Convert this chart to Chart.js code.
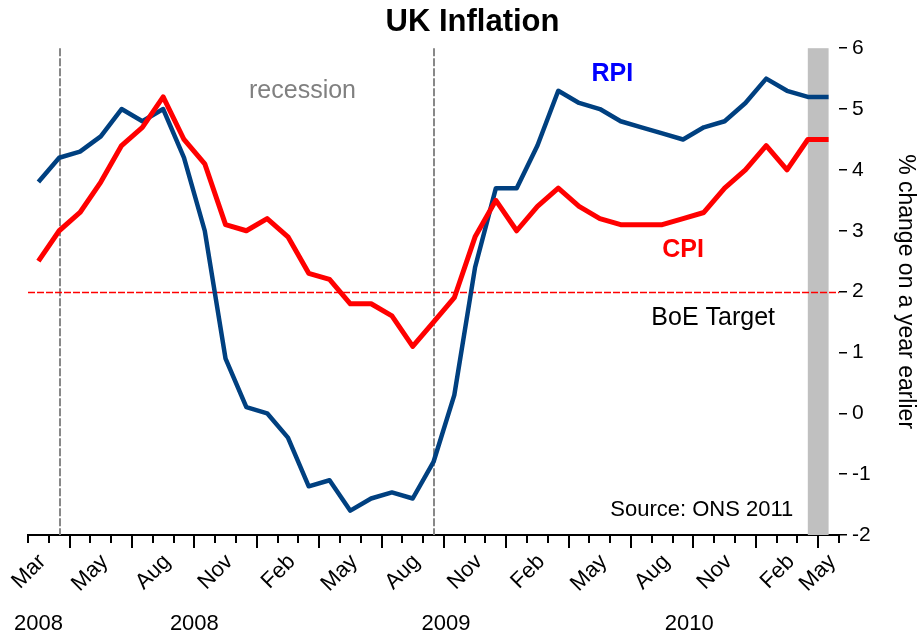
<!DOCTYPE html>
<html>
<head>
<meta charset="utf-8">
<title>UK Inflation</title>
<script src="https://cdn.jsdelivr.net/npm/chart.js@4.4.1/dist/chart.umd.min.js"></script>
<style>
  html, body { margin: 0; padding: 0; background: #fff; }
  #wrap { width: 917px; height: 637px; position: relative; }
</style>
</head>
<body>
<div id="wrap"><canvas id="inflationChart"></canvas></div>
<script>
// monthly, Mar 2008 .. May 2011 (labels as printed on the original axis)
const monthLabels = [
    'Mar', '', '',
    'May', '', '',
    'Aug', '', '',
    'Nov', '', '',
    'Feb', '', '',
    'May', '', '',
    'Aug', '', '',
    'Nov', '', '',
    'Feb', '', '',
    'May', '', '',
    'Aug', '', '',
    'Nov', '', '',
    'Feb', '', 'May'
];

const rpiValues = [3.8, 4.2, 4.3, 4.55, 5.0, 4.8, 5.0, 4.2, 3.0, 0.9, 0.1, 0.0, -0.4, -1.2, -1.1, -1.6, -1.4, -1.3, -1.4, -0.8,
    0.3, 2.4, 3.7, 3.7, 4.4, 5.3, 5.1, 5.0, 4.8, 4.7, 4.6, 4.5, 4.7, 4.8, 5.1, 5.5, 5.3, 5.2, 5.2];

const cpiValues = [2.5, 3.0, 3.3, 3.8, 4.4, 4.7, 5.2, 4.5, 4.1, 3.1, 3.0, 3.2, 2.9, 2.3, 2.2, 1.8, 1.8, 1.6, 1.1, 1.5,
    1.9, 2.9, 3.5, 3.0, 3.4, 3.7, 3.4, 3.2, 3.1, 3.1, 3.1, 3.2, 3.3, 3.7, 4.0, 4.4, 4.0, 4.5, 4.5];

const yTicks = [6, 5, 4, 3, 2, 1, 0, -1, -2];
const yearLabels = ['2008', '2008', '2009', '2010'];
const yearAt = [0, 7.5, 19.6, 31.3];      // category index under which each year sits

const boeTarget = 2;
const recessionMarks = [1.05, 19];        // dashed verticals, in category index
const bandFrom = 37, bandTo = 38;         // grey shaded block at the right

const FONT = "'Liberation Sans', Arial, Helvetica, sans-serif";

const notes = [
    { text: 'recession', x: 12.7, y: 5.3, font: '25px ' + FONT, color: '#808080' },
    { text: 'RPI', x: 27.6, y: 5.57, font: 'bold 25px ' + FONT, color: '#0000ff' },
    { text: 'CPI', x: 31.0, y: 2.69, font: 'bold 25px ' + FONT, color: '#ff0000' },
    { text: 'BoE Target', x: 32.45, y: 1.56, font: '25px ' + FONT, color: '#000000' },
    { text: 'Source: ONS 2011', x: 31.9, y: -1.59, font: '22px ' + FONT, color: '#000000' }
];

const overlays = {
    id: 'overlays',
    beforeDatasetsDraw(chart) {
        const { ctx, chartArea: a, scales: { x, y } } = chart;
        ctx.save();

        const b0 = x.getPixelForValue(bandFrom);
        const b1 = x.getPixelForValue(bandTo);
        ctx.fillStyle = '#c0c0c0';
        ctx.fillRect(b0, a.top, b1 - b0, a.bottom - a.top);

        ctx.strokeStyle = '#888888';
        ctx.lineWidth = 2;
        ctx.setLineDash([8, 2]);
        recessionMarks.forEach(v => {
            const px = Math.round(x.getPixelForValue(v));
            ctx.beginPath();
            ctx.moveTo(px, a.top);
            ctx.lineTo(px, a.bottom);
            ctx.stroke();
        });

        const ty = Math.round(y.getPixelForValue(boeTarget)) + 0.5;
        ctx.strokeStyle = '#ff0000';
        ctx.lineWidth = 1.5;
        ctx.setLineDash([7, 2]);
        ctx.beginPath();
        ctx.moveTo(a.left, ty);
        ctx.lineTo(a.right, ty);
        ctx.stroke();

        ctx.restore();
    },
    afterDraw(chart) {
        const { ctx, chartArea: a, scales: { x, y } } = chart;
        ctx.save();

        // x tick marks: one per month boundary, longer every third
        const step = (a.right - a.left) / monthLabels.length;
        ctx.strokeStyle = '#000';
        ctx.lineWidth = 2;
        for (let i = 0; i <= monthLabels.length; i++) {
            const px = Math.round(x.getPixelForValue(i) - step / 2);
            const len = i % 3 === 2 ? 13 : 8;
            ctx.beginPath();
            ctx.moveTo(px, a.bottom);
            ctx.lineTo(px, a.bottom + len);
            ctx.stroke();
        }

        ctx.fillStyle = '#000';
        ctx.font = '22px ' + FONT;
        ctx.textAlign = 'center';
        ctx.textBaseline = 'middle';
        yearLabels.forEach((t, i) => {
            ctx.fillText(t, x.getPixelForValue(yearAt[i]), 624);
        });

        notes.forEach(n => {
            ctx.font = n.font;
            ctx.fillStyle = n.color;
            ctx.fillText(n.text, x.getPixelForValue(n.x), y.getPixelForValue(n.y));
        });

        ctx.restore();
    }
};

const ctx = document.getElementById('inflationChart').getContext('2d');
new Chart(ctx, {
    type: 'line',
    data: {
        labels: monthLabels,
        datasets: [
            { label: 'RPI', data: rpiValues, borderColor: '#004080', borderWidth: 4.5, order: 1 },
            { label: 'CPI', data: cpiValues, borderColor: '#ff0000', borderWidth: 5, order: 0 }
        ]
    },
    options: {
        responsive: true,
        maintainAspectRatio: false,
        animation: false,
        layout: { padding: { left: 28, right: 0, top: 0, bottom: 0 } },
        elements: {
            point: { radius: 0, hoverRadius: 0 },
            line: { tension: 0, borderJoinStyle: 'round', fill: false }
        },
        scales: {
            x: {
                type: 'category',
                offset: true,
                grid: { display: false, drawTicks: false, offset: true },
                border: { display: true, color: '#000', width: 2 },
                ticks: {
                    autoSkip: false,
                    maxRotation: 45,
                    minRotation: 45,
                    padding: 14,
                    labelOffset: 4,
                    color: '#000',
                    font: { family: FONT, size: 22 }
                },
                afterFit(scale) {
                    scale.height = 102;
                    scale.paddingLeft = 0;
                    scale.paddingRight = 0;
                }
            },
            y: {
                position: 'right',
                min: -2,
                max: 6,
                afterBuildTicks(scale) { scale.ticks = yTicks.map(v => ({ value: v })); },
                grid: { drawOnChartArea: false, drawTicks: true, tickLength: 8, color: '#000', lineWidth: 1.5 },
                border: { display: false },
                ticks: { padding: 5, color: '#000', font: { family: FONT, size: 21 } },
                title: {
                    display: true,
                    text: '% change on a year earlier',
                    color: '#000',
                    padding: 0,
                    font: { family: FONT, size: 23, lineHeight: 1 }
                },
                afterFit(scale) { scale.width = 78; }
            }
        },
        plugins: {
            legend: { display: false },
            tooltip: { enabled: false },
            title: {
                display: true,
                text: 'UK Inflation',
                color: '#000',
                padding: { top: 4, bottom: 7 },
                font: { family: FONT, size: 31, weight: 'bold', lineHeight: 1.2 }
            }
        }
    },
    plugins: [overlays]
});
</script>
</body>
</html>
